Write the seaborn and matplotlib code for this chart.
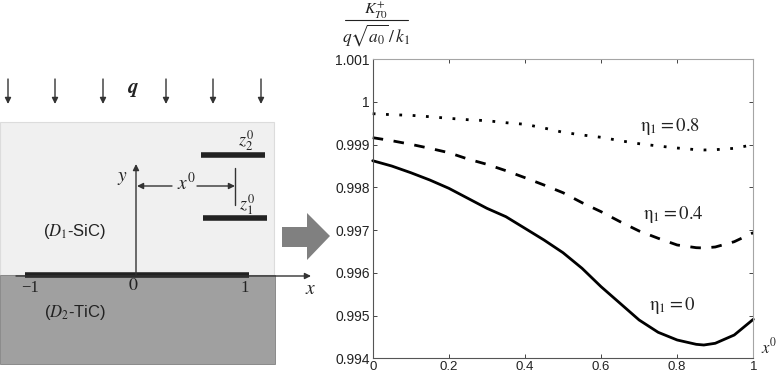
import matplotlib
matplotlib.use("Agg")
import matplotlib.pyplot as plt
from matplotlib.patches import Rectangle, Polygon
import seaborn as sns
import pandas as pd

sns.set_style("white")
plt.rcParams['font.family'] = ['Liberation Sans', 'DejaVu Sans']
plt.rcParams['mathtext.fontset'] = 'stix'

x_values = [0, 0.05, 0.1, 0.15, 0.2, 0.25, 0.3, 0.35, 0.4, 0.45, 0.5, 0.55, 0.6, 0.65, 0.7, 0.75, 0.8, 0.85, 0.87, 0.9, 0.95, 1.0]
eta_0 = [0.998621, 0.998497, 0.998341, 0.99817, 0.997976, 0.997742, 0.997508, 0.997312, 0.99704, 0.996767, 0.99647,
         0.996105, 0.995675, 0.995286, 0.994896, 0.994608, 0.994428, 0.994327, 0.994311, 0.994351, 0.994545, 0.994912]
eta_04 = [0.99916, 0.999089, 0.999005, 0.998911, 0.998809, 0.998661, 0.998537, 0.998388, 0.998224, 0.998053, 0.997873,
          0.997639, 0.997429, 0.997195, 0.996977, 0.996807, 0.99665, 0.996587, 0.99658, 0.996603, 0.996727, 0.996938]
eta_08 = [0.999721, 0.999697, 0.999683, 0.99965, 0.999613, 0.99958, 0.999557, 0.99951, 0.999473, 0.999386, 0.999286,
          0.999223, 0.999169, 0.999089, 0.999019, 0.998965, 0.998918, 0.998879, 0.998872, 0.998879, 0.998911, 0.998996]
x_ticks = [0, 0.2, 0.4, 0.6, 0.8, 1]
x_tick_labels = ['0', '0.2', '0.4', '0.6', '0.8', '1']
y_ticks = [0.994, 0.995, 0.996, 0.997, 0.998, 0.999, 1, 1.001]
y_tick_labels = ['0.994', '0.995', '0.996', '0.997', '0.998', '0.999', '1', '1.001']

W, H = 779, 374
fig = plt.figure(figsize=(W / 100, H / 100), dpi=100, facecolor='white')

# schematic, pixel coordinates
bg = fig.add_axes([0, 0, 1, 1])
bg.set_xlim(0, W)
bg.set_ylim(H, 0)
bg.axis('off')
bg.add_patch(Rectangle((0, 122), 274, 153, fc='#f0f0f0', ec='#dcdcdc', lw=0.8))
bg.add_patch(Rectangle((0, 275), 275, 89, fc='#a0a0a0', ec='#808080', lw=0.6))

arrow = dict(arrowstyle='-|>', color='#333333', lw=1, mutation_scale=9, shrinkA=0, shrinkB=0)
for ax_x in [8, 55, 103, 166, 213, 261]:
    bg.annotate('', xy=(ax_x, 104), xytext=(ax_x, 79), arrowprops=arrow)
bg.plot([25, 249], [275, 275], color='#222222', lw=4, solid_capstyle='butt')
bg.plot([201, 265], [155, 155], color='#222222', lw=4, solid_capstyle='butt')
bg.plot([203, 267], [218, 218], color='#222222', lw=4, solid_capstyle='butt')
bg.plot([235, 235], [168, 205], color='#333333', lw=1)
bg.annotate('', xy=(311, 276), xytext=(16, 276), arrowprops=arrow)
bg.annotate('', xy=(136, 164), xytext=(136, 275), arrowprops=arrow)
bg.annotate('', xy=(137, 186), xytext=(172, 186), arrowprops=arrow)
bg.annotate('', xy=(235, 186), xytext=(197, 186), arrowprops=arrow)
bg.add_patch(Polygon([(282, 227), (307, 227), (307, 213), (330, 236), (307, 260), (307, 247), (282, 247)],
                     fc='#808080', ec='none'))

def label(x, y, s, size=11, color='#222222', **kw):
    bg.text(x, y, s, fontsize=size, color=color, ha='center', va='center', **kw)

label(133, 89, r'$\boldsymbol{q}$', 15)
label(122, 178, r'$y$', 14)
label(186, 183, r'$x^0$', 14)
label(246, 141, r'$z_2^0$', 13)
label(247, 205, r'$z_1^0$', 13)
label(75, 231, r'($D_1$-SiC)', 12)
label(75, 313, r'($D_2$-TiC)', 12)
label(30, 288, '\u22121', 12, family='Liberation Serif')
label(133, 286, r'$0$', 13)
label(245, 288, '1', 12, family='Liberation Serif')
label(311, 289, r'$x$', 14)

# chart
left, right, top, bottom = 372.7, 753.3, 59, 358.3
ax = fig.add_axes([left / W, 1 - bottom / H, (right - left) / W, (bottom - top) / H])
ax.patch.set_alpha(0)

data = pd.DataFrame({'x': x_values, 'e0': eta_0, 'e04': eta_04, 'e08': eta_08})
sns.lineplot(data=data, x='x', y='e0', ax=ax, color='black', lw=2.0, errorbar=None, clip_on=False)
sns.lineplot(data=data, x='x', y='e04', ax=ax, color='black', lw=2.0, errorbar=None,
             linestyle=(0, (3.8, 3.8)), clip_on=False)
sns.lineplot(data=data, x='x', y='e08', ax=ax, color='black', lw=2.0, errorbar=None,
             linestyle=(0, (1, 3.8)), clip_on=False)

ax.set_xlim(0, 1)
ax.set_ylim(0.994, 1.001)
ax.set_xlabel('')
ax.set_ylabel('')
ax.set_xticks(x_ticks, x_tick_labels)
ax.set_yticks(y_ticks, y_tick_labels)
ax.tick_params(direction='in', length=3, width=0.7, color='#444444', labelsize=10,
               top=True, right=True, bottom=True, left=True, labelcolor='#222222')
ax.tick_params(axis='x', pad=2.2, labelsize=9.5)
ax.tick_params(axis='y', pad=2)
for name, spine in ax.spines.items():
    spine.set_visible(True)
    spine.set_linewidth(0.8)
    spine.set_color('#a5a5a5' if name in ('right', 'top') else '#555555')

bg.text(670, 126, r'$\mathrm{\eta}_{1} = 0.8$', fontsize=13.5, ha='center', va='center', color='#222222')
bg.text(673, 214, r'$\mathrm{\eta}_{1} = 0.4$', fontsize=13.5, ha='center', va='center', color='#222222')
bg.text(672, 306, r'$\mathrm{\eta}_{1} = 0$', fontsize=13.5, ha='center', va='center', color='#222222')

bg.text(769, 346, r'$x^0$', fontsize=12, ha='center', va='center', color='#222222')
bg.text(376, 10.5, r'$K_{T0}^{+}$', fontsize=11.5, ha='center', va='center', color='#222222')
bg.plot([345, 408], [20, 20], color='#222222', lw=0.8)
bg.text(376, 35, r'$q\sqrt{a_0}\,/\,k_1$', fontsize=12.5, ha='center', va='center', color='#222222')

fig.savefig('out.png', dpi=100)
